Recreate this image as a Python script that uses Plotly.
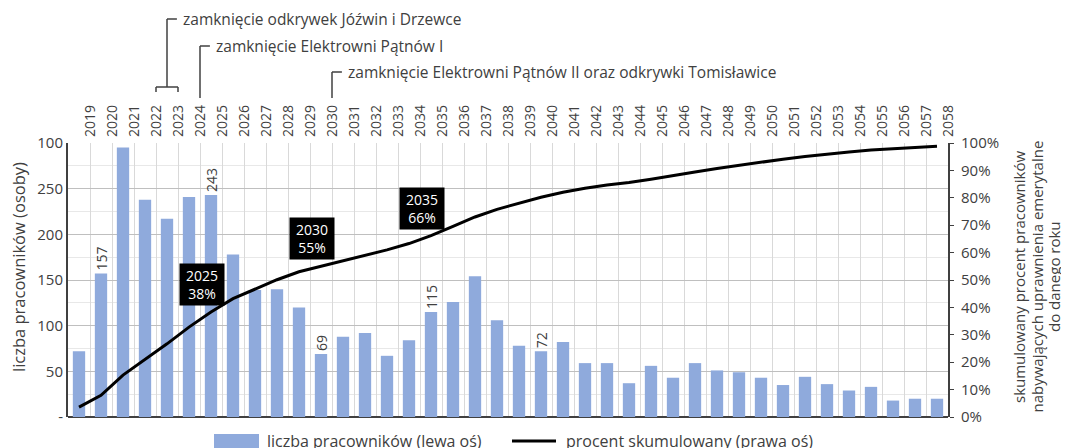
import plotly.graph_objects as go

# ---------------- data ----------------
years = list(range(2019, 2059))
workers = [72, 157, 295, 238, 217, 241, 243, 178, 139, 140,
           120, 69, 88, 92, 67, 84, 115, 126, 154, 106,
           78, 72, 82, 59, 59, 37, 56, 43, 59, 51,
           49, 43, 35, 44, 36, 29, 33, 18, 20, 20]
cumulative_pct = [3.6, 7.9, 15.3, 21.0, 26.7, 32.8, 38.3, 43.2, 46.8, 50.1,
                  53.0, 55.0, 57.0, 59.2, 61.0, 63.3, 66.2, 69.6, 73.0, 75.8,
                  78.0, 80.2, 82.0, 83.5, 84.7, 85.6, 86.8, 88.0, 89.4, 90.7,
                  91.9, 93.0, 94.1, 95.1, 96.0, 96.7, 97.4, 97.9, 98.4, 98.8]
labeled_years = [2020, 2025, 2030, 2035, 2040]
boxed_years = [2025, 2030, 2035]
left_tickvals = [0, 50, 100, 150, 200, 250, 300]
left_ticktext = ["-", "50", "100", "150", "200", "250", "100"]
right_tickvals = [i / 10 for i in range(11)]
events = [
    ("zamknięcie odkrywek Jóźwin i Drzewce", [2022, 2023], 19),
    ("zamknięcie Elektrowni Pątnów I", [2024], 46),
    ("zamknięcie Elektrowni Pątnów II oraz odkrywki Tomisławice", [2030], 72),
]
legend_bar = "liczba pracowników (lewa oś)"
legend_line = "procent skumulowany (prawa oś)"
left_title = "liczba pracowników (osoby)"
right_title_lines = ["skumulowany procent pracowników",
                     "nabywających uprawnienia emerytalne",
                     "do danego roku"]

# ---------------- layout constants (screen pixels) ----------------
OFF = 8                      # page body margin
W, H = 1069 - OFF, 448 - OFF
PL, PR, PT, PB = 68, 948, 143, 417
FONT = "Open Sans"
TXT = "#404040"
BAR = "#8faadc"


def px(X):
    return (X - PL) / (PR - PL)


def py(Y):
    return (PB - Y) / (PB - PT)


fig = go.Figure()

fig.add_trace(go.Bar(
    x=years, y=workers, width=0.56, marker=dict(color=BAR, line=dict(width=0)),
    text=[str(v) if yr in labeled_years else "" for yr, v in zip(years, workers)],
    textposition="outside", textangle=-90, cliponaxis=False, constraintext="none",
    textfont=dict(family=FONT, size=14, color=TXT),
    showlegend=False, hoverinfo="x+y",
))
fig.add_trace(go.Scatter(
    x=years, y=[v / 100 for v in cumulative_pct], yaxis="y2", mode="lines",
    line=dict(color="black", width=3), showlegend=False,
))

annotations = []
shapes = []

# black boxes
for yr in boxed_years:
    i = years.index(yr)
    p = cumulative_pct[i]
    annotations.append(dict(
        x=yr - 0.4, y=p / 100 + 0.10, xref="x", yref="y2", xanchor="center", yanchor="middle",
        text=f"{yr}<br>{round(p)}%", showarrow=False,
        font=dict(family=FONT, size=14, color="white"),
        bgcolor="black", borderpad=2, width=40, align="center",
    ))

# top event markers
LC = "#404040"
for label, yrs, ty in events:
    pos = [y + 0.5 for y in yrs]
    if len(pos) > 1:
        yb = 87
        shapes.append(dict(type="line", xref="x", yref="paper", x0=pos[0], x1=pos[-1],
                           y0=py(yb), y1=py(yb), line=dict(color=LC, width=1.5)))
        for p in (pos[0], pos[-1]):
            shapes.append(dict(type="line", xref="x", yref="paper", x0=p, x1=p,
                               y0=py(yb), y1=py(yb + 5), line=dict(color=LC, width=1.5)))
        stem = sum(pos) / len(pos)
        y0 = yb
    else:
        stem = pos[0]
        y0 = 98
    shapes.append(dict(type="line", xref="x", yref="paper", x0=stem, x1=stem,
                       y0=py(y0), y1=py(ty), line=dict(color=LC, width=1.5)))
    shapes.append(dict(type="line", xref="x", yref="paper", x0=stem, x1=stem + 0.45,
                       y0=py(ty), y1=py(ty), line=dict(color=LC, width=1.5)))
    annotations.append(dict(
        x=stem + 0.45, y=py(ty), xref="x", yref="paper", xanchor="left", yanchor="middle",
        xshift=4, text=label, showarrow=False, font=dict(family=FONT, size=15.5, color=TXT),
    ))

# axis titles
annotations.append(dict(
    x=px(18), y=py(267), xref="paper", yref="paper", xanchor="center", yanchor="middle",
    text=left_title, textangle=-90,
    showarrow=False, font=dict(family=FONT, size=16.5, color=TXT),
))
for k, line in enumerate(right_title_lines):
    annotations.append(dict(
        x=px(1019 + 17.5 * k), y=py(277), xref="paper", yref="paper",
        xanchor="center", yanchor="middle", text=line, textangle=-90,
        showarrow=False, font=dict(family=FONT, size=15, color=TXT),
    ))

# manual legend
shapes.append(dict(type="rect", xref="paper", yref="paper", x0=px(214), x1=px(259),
                   y0=py(448), y1=py(434), fillcolor=BAR, line=dict(width=0)))
annotations.append(dict(x=px(265), y=py(441), xref="paper", yref="paper", xanchor="left",
                        yanchor="middle", text=legend_bar, showarrow=False,
                        font=dict(family=FONT, size=16, color=TXT)))
shapes.append(dict(type="line", xref="paper", yref="paper", x0=px(512), x1=px(556),
                   y0=py(441), y1=py(441), line=dict(color="black", width=3)))
annotations.append(dict(x=px(564), y=py(441), xref="paper", yref="paper", xanchor="left",
                        yanchor="middle", text=legend_line, showarrow=False,
                        font=dict(family=FONT, size=16, color=TXT)))

fig.update_layout(
    width=W, height=H,
    margin=dict(l=PL - OFF, r=W - (PR - OFF), t=PT - OFF, b=H - (PB - OFF), pad=0),
    paper_bgcolor="white", plot_bgcolor="white",
    font=dict(family=FONT, size=14, color=TXT),
    showlegend=False,
    xaxis=dict(
        range=[2018.5, 2058.5], side="top",
        tickvals=[y + 0.5 for y in years], ticktext=[str(y) for y in years],
        tickangle=-90, tickfont=dict(family=FONT, size=14, color=TXT),
        ticklabelstandoff=5,
        showgrid=True, gridcolor="#d9d9d9", gridwidth=1,
        zeroline=False, showline=False, ticks="",
    ),
    yaxis=dict(
        range=[0, 300], tickvals=left_tickvals, ticktext=left_ticktext,
        tickfont=dict(family=FONT, size=15, color=TXT),
        showgrid=True, gridcolor="#bfbfbf", gridwidth=1,
        minor=dict(dtick=25, showgrid=True, gridcolor="#e8e8e8", gridwidth=1),
        zeroline=True, zerolinecolor="#404040", zerolinewidth=2,
        showline=True, linecolor="#404040", linewidth=2, ticks="",
    ),
    yaxis2=dict(
        range=[0, 1], overlaying="y", side="right", tickvals=right_tickvals,
        tickformat=".0%", tickfont=dict(family=FONT, size=15, color=TXT),
        showgrid=False, zeroline=False, showline=True, linecolor="#404040", linewidth=2,
        ticks="outside", ticklen=4, tickcolor="#404040", ticklabelstandoff=4,
    ),
    annotations=annotations, shapes=shapes,
)

fig.write_html("out.html")
